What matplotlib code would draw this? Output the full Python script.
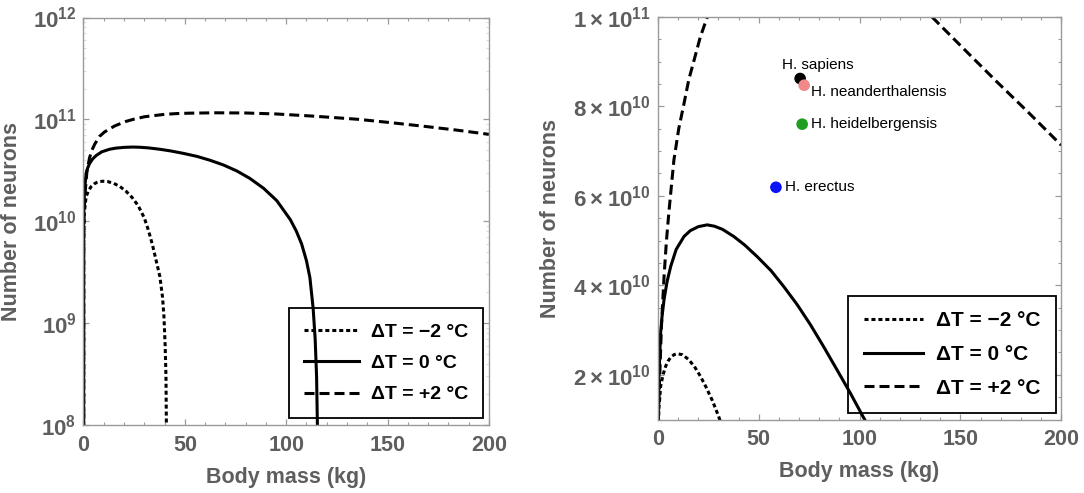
"""
Neuron count vs body mass for three temperature offsets.
"""

import math

import matplotlib
matplotlib.use("Agg")
import matplotlib.pyplot as plt
import matplotlib.ticker as mticker

plt.rcParams["font.family"] = ["Liberation Sans", "DejaVu Sans"]
plt.rcParams["mathtext.fontset"] = "custom"
plt.rcParams["mathtext.rm"] = "Liberation Sans"
plt.rcParams["mathtext.bf"] = "Liberation Sans:bold"
plt.rcParams["lines.scale_dashes"] = False

GREY = "#5e5e5e"
SPINE = "#9a9a9a"

# ΔT = -2 °C
mass_cold = [0, 0.1, 0.4, 1.3, 2.5, 3.8, 5.2, 6.5, 8.0, 9.6, 12, 15, 18, 21, 24,
             27, 30, 32, 34, 36, 37.7, 39.0, 39.7, 40.3, 40.7, 40.9]
neur_cold = [0, 6e9, 1.2e10, 1.74e10, 2.0e10, 2.19e10, 2.32e10, 2.40e10, 2.45e10,
             2.47e10, 2.45e10, 2.35e10, 2.19e10, 1.97e10, 1.71e10, 1.42e10, 1.08e10,
             8.2e9, 5.9e9, 4.0e9, 2.86e9, 1.8e9, 1.16e9, 6e8, 3e8, 1e8]

# ΔT = 0 °C
mass_zero = [0, 0.1, 0.5, 1.3, 2.0, 3.0, 4.5, 6.3, 9, 12.9, 16, 20, 24.4, 28, 32,
             37.6, 43, 49.2, 56, 62.4, 69, 75.6, 82, 88.8, 95.4, 102, 105, 107.6,
             110, 111.7, 113.3, 114.3, 115.0, 115.4]
neur_zero = [0, 1.1e10, 2.0e10, 2.93e10, 3.3e10, 3.68e10, 4.08e10, 4.42e10, 4.8e10,
             5.09e10, 5.22e10, 5.31e10, 5.35e10, 5.32e10, 5.25e10, 5.09e10, 4.9e10,
             4.64e10, 4.33e10, 3.97e10, 3.57e10, 3.12e10, 2.64e10, 2.11e10, 1.59e10,
             1.04e10, 8.0e9, 6.0e9, 4.1e9, 2.8e9, 1.4e9, 7e8, 3e8, 1e8]

# ΔT = +2 °C
mass_warm = [0, 0.1, 0.3, 0.85, 1.7, 3.0, 4.2, 5.5, 7.9, 10.3, 12.9, 15.3, 17.9,
             21, 24.5, 30, 35, 40, 46, 52, 65, 80, 95, 112, 124, 135.8, 151.5, 168,
             184, 200]
neur_warm = [0, 7e9, 1.2e10, 1.96e10, 3.07e10, 4.19e10, 5.0e10, 5.68e10, 6.8e10,
             7.5e10, 8.06e10, 8.6e10, 9.03e10, 9.55e10, 1.0e11, 1.06e11, 1.09e11,
             1.12e11, 1.14e11, 1.15e11, 1.16e11, 1.155e11, 1.13e11, 1.08e11,
             1.04e11, 1.0e11, 9.29e10, 8.55e10, 7.85e10, 7.13e10]

labels = ["ΔT = −2 °C", "ΔT = 0 °C", "ΔT = +2 °C"]

species = ["H. sapiens", "H. neanderthalensis", "H. heidelbergensis", "H. erectus"]
species_mass = [70.5, 72.5, 71.5, 58.5]
species_neurons = [8.62e10, 8.47e10, 7.6e10, 6.19e10]
species_colors = ["black", "#f08a8a", "#1f9e1f", "#0a14f5"]
# label offsets in pixels from each dot
species_offsets = [(18, 14), (7, -7), (9, 0), (9, 0)]
species_ha = ["center", "left", "left", "left"]


def draw_curves(ax):
    ax.plot(mass_cold, neur_cold, color="black", lw=2.2, dashes=(2.9, 2.1), label=labels[0])
    ax.plot(mass_zero, neur_zero, color="black", lw=2.2, label=labels[1])
    ax.plot(mass_warm, neur_warm, color="black", lw=2.2, dashes=(7.2, 3.6), label=labels[2])


def style_axes(ax):
    for s in ax.spines.values():
        s.set_color(SPINE)
        s.set_linewidth(1.0)
    ax.tick_params(which="both", direction="in", top=True, right=True, color=SPINE,
                   labelcolor=GREY)
    ax.tick_params(which="major", length=4.5, width=0.9)
    ax.tick_params(which="minor", length=2.5, width=0.8)
    ax.tick_params(axis="x", labelsize=15.5, pad=7)
    ax.tick_params(axis="y", labelsize=16, pad=5)
    for lab in ax.get_xticklabels() + ax.get_yticklabels():
        lab.set_fontweight("bold")
    ax.set_xlim(0, 200)
    ax.xaxis.set_major_locator(mticker.MultipleLocator(50))
    ax.xaxis.set_minor_locator(mticker.MultipleLocator(10))
    ax.set_xlabel("Body mass (kg)", fontsize=15.5, fontweight="bold", color=GREY, labelpad=8)
    ax.set_ylabel("Number of neurons", fontsize=15.5, fontweight="bold", color=GREY)


def add_legend(ax, anchor, size):
    leg = ax.legend(loc="lower right", bbox_to_anchor=anchor, borderaxespad=0,
                    fancybox=False, edgecolor="black", facecolor="none", framealpha=1,
                    handlelength=2.85, handletextpad=0.62, labelspacing=0.71,
                    borderpad=0.75, prop={"size": size, "weight": "bold"})
    leg.get_frame().set_linewidth(1.3)


fig = plt.figure(figsize=(10.84, 4.93), dpi=100)
ax1 = fig.add_axes([0.077, 0.138, 0.374, 0.8265])
ax2 = fig.add_axes([0.607, 0.149, 0.372, 0.817])

# left: log scale
draw_curves(ax1)
ax1.set_yscale("log")
ax1.set_ylim(1e8, 1e12)
ax1.yaxis.set_major_locator(mticker.LogLocator(base=10, numticks=10))
ax1.yaxis.set_minor_locator(mticker.LogLocator(base=10, subs=range(2, 10), numticks=10))
ax1.yaxis.set_major_formatter(mticker.FuncFormatter(
    lambda v, _: r"$\mathbf{10^{%d}}$" % round(math.log10(v))))
ax1.yaxis.set_minor_formatter(mticker.NullFormatter())
style_axes(ax1)
ax1.tick_params(axis="y", which="minor", color="#dddddd")
ax1.yaxis.set_label_coords(-0.152, 0.5)
add_legend(ax1, (0.986, 0.017), 14)


def sci_label(v, _):
    exp = int(math.floor(math.log10(v)))
    return r"$\mathbf{%d\times10^{%d}}$" % (round(v / 10 ** exp), exp)


# right: linear scale with species
draw_curves(ax2)
ax2.set_ylim(1e10, 1e11)
ax2.yaxis.set_major_locator(mticker.FixedLocator([2e10, 4e10, 6e10, 8e10, 1e11]))
ax2.yaxis.set_minor_locator(mticker.MultipleLocator(5e9))
ax2.yaxis.set_major_formatter(mticker.FuncFormatter(sci_label))
style_axes(ax2)
ax2.yaxis.set_label_coords(-0.24, 0.5)
ax2.scatter(species_mass, species_neurons, c=species_colors, s=70, zorder=4, linewidths=0)
for name, m, n, off, ha in zip(species, species_mass, species_neurons, species_offsets, species_ha):
    ax2.annotate(name, (m, n), xytext=off, textcoords="offset pixels", ha=ha, va="center",
                 fontsize=11, color="black")
add_legend(ax2, (0.9876, 0.0154), 15)

fig.savefig("out.png", dpi=100)
